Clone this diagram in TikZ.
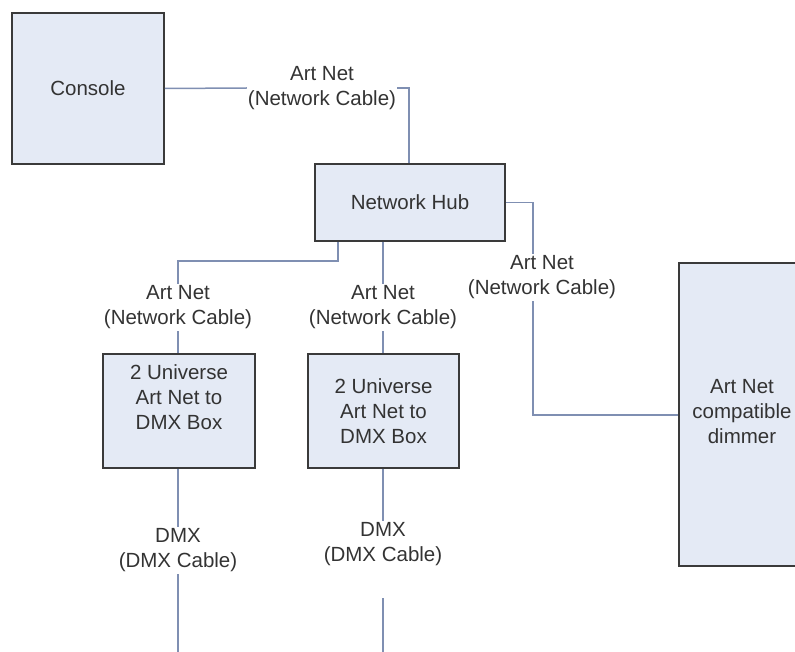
\documentclass[tikz,border=0pt]{standalone}
\usepackage{fontspec}
\setmainfont{Liberation Sans}
\definecolor{boxfill}{HTML}{E4EAF5}
\definecolor{boxline}{HTML}{3A3A3A}
\definecolor{wire}{HTML}{7F8FB2}
\begin{document}
\begin{tikzpicture}[x=1pt,y=-1pt,
  box/.style={draw=boxline, fill=boxfill, line width=1.6pt, inner sep=0pt, align=center, text=black!80, font=\fontsize{20.5}{25}\selectfont},
  lbl/.style={inner xsep=1pt, inner ysep=2pt, align=center, text=black!80, font=\fontsize{20.5}{25}\selectfont},
  conn/.style={draw=wire, line width=1.5pt}]
\useasboundingbox (0,0) rectangle (795,652);
% boxes
\node[box, minimum width=152, minimum height=151] (console) at (88,88.5) {Console};
\node[box, minimum width=190, minimum height=77] (hub) at (410,202.5) {Network Hub};
\node[box, minimum width=152, minimum height=114] (box1) at (179,411) {};
\node[lbl] (box1t) at (179,397) {2 Universe\\Art Net to\\DMX Box};
\node[box, minimum width=151, minimum height=114] (box2) at (383.5,411) {2 Universe\\Art Net to\\DMX Box};
\node[box, minimum width=150, minimum height=303] (dimmer) at (754,414.5) {};
\node[lbl] (dimmert) at (742,412) {Art Net\\compatible\\dimmer};
% labels
\node[lbl] (l1) at (322,88) {Art Net\\(Network Cable)};
\node[lbl] (l2) at (178,307.5) {Art Net\\(Network Cable)};
\node[lbl] (l3) at (383,307.5) {Art Net\\(Network Cable)};
\node[lbl] (l4) at (178,550.5) {DMX\\(DMX Cable)};
\node[lbl] (l5) at (383,544.5) {DMX\\(DMX Cable)};
\node[lbl] (l6) at (542,277.5) {Art Net\\(Network Cable)};
% bend coordinates
\coordinate (c1) at (409,0);
\coordinate (h2) at (338,261);
\coordinate (c2) at (178,261);
\coordinate (c3) at (383,0);
\coordinate (c6) at (533,0);
\coordinate (c6b) at (533,415);
\coordinate (e4) at (178,652);
\coordinate (s5) at (383,598);
\coordinate (e5) at (383,652);
% connectors
\draw[conn] (console.east) -- (l1.west);
\draw[conn] (l1.east) -| (c1 |- hub.north);
\draw[conn] (hub.south -| h2) -- (h2) -- (c2) -- (l2.north);
\draw[conn] (l2.south) -- (box1.north -| l2.south);
\draw[conn] (hub.south -| c3) -- (l3.north);
\draw[conn] (l3.south) -- (box2.north -| l3.south);
\draw[conn] (box1.south -| l4.north) -- (l4.north);
\draw[conn] (l4.south) -- (e4);
\draw[conn] (box2.south -| l5.north) -- (l5.north);
\draw[conn] (s5) -- (e5);
\draw[conn] (hub.east) -| (c6 |- l6.north);
\draw[conn] (c6 |- l6.south) -- (c6b) -- (c6b -| dimmer.west);
\end{tikzpicture}
\end{document}
